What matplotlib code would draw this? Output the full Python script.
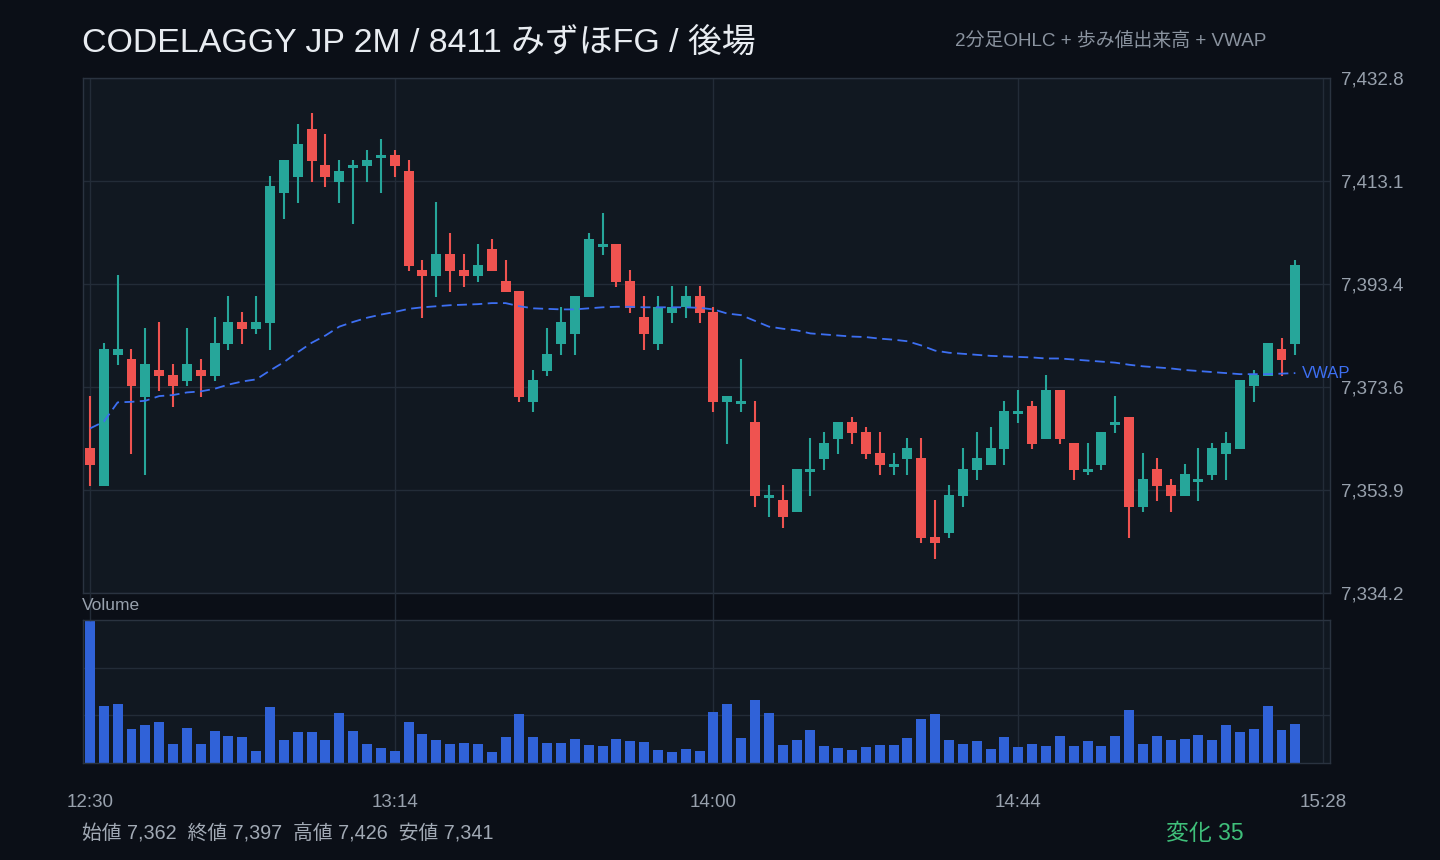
import matplotlib
matplotlib.use("Agg")
import matplotlib.pyplot as plt
import numpy as np

plt.rcParams['font.family'] = ['Liberation Sans', 'Noto Sans CJK JP', 'DejaVu Sans']

# 2-minute candles, afternoon session from 12:30
start_minutes = 12 * 60 + 30
bar_minutes = 2

opens = [7362.0, 7354.7, 7379.8, 7379.0, 7371.7, 7376.9, 7375.9, 7374.8, 7376.9, 7375.8,
         7381.9, 7386.1, 7384.8, 7385.9, 7410.8, 7413.9, 7423.0, 7416.1, 7412.9, 7415.6,
         7416.0, 7417.5, 7418.1, 7415.0, 7396.0, 7394.9, 7399.1, 7396.0, 7394.9, 7400.1,
         7393.9, 7392.0, 7370.8, 7376.7, 7381.9, 7383.8, 7390.9, 7400.4, 7401.0, 7393.9,
         7387.0, 7381.9, 7387.8, 7389.0, 7391.1, 7388.0, 7370.8, 7370.4, 7366.9, 7352.4,
         7352.0, 7349.7, 7357.4, 7359.9, 7363.7, 7366.9, 7365.0, 7361.0, 7358.3, 7359.9,
         7360.0, 7344.9, 7345.7, 7352.8, 7357.8, 7358.7, 7361.8, 7368.5, 7370.0, 7363.7,
         7373.1, 7362.9, 7357.4, 7358.7, 7366.4, 7367.9, 7350.7, 7357.9, 7354.9, 7352.8,
         7355.5, 7356.8, 7360.8, 7361.8, 7373.8, 7375.8, 7380.9, 7381.9]
highs = [7371.9, 7382.1, 7395.1, 7380.9, 7384.9, 7386.1, 7378.0, 7384.9, 7379.0, 7387.0,
         7391.1, 7388.0, 7391.1, 7414.0, 7417.1, 7424.0, 7426.1, 7422.1, 7417.1, 7417.1,
         7419.0, 7421.1, 7419.0, 7417.1, 7398.0, 7409.1, 7403.1, 7399.1, 7401.0, 7402.0,
         7398.0, 7392.0, 7376.9, 7384.9, 7389.0, 7391.1, 7403.1, 7407.0, 7401.0, 7396.0,
         7391.1, 7391.1, 7393.0, 7393.0, 7393.0, 7389.0, 7371.9, 7379.0, 7371.0, 7354.9,
         7354.9, 7357.9, 7363.9, 7365.0, 7366.9, 7367.9, 7366.0, 7365.0, 7361.0, 7363.9,
         7363.9, 7352.0, 7354.9, 7362.0, 7365.0, 7366.0, 7371.0, 7373.1, 7371.0, 7375.9,
         7373.1, 7362.9, 7362.9, 7365.0, 7371.9, 7367.9, 7361.0, 7360.0, 7356.0, 7358.9,
         7362.0, 7362.9, 7365.0, 7375.0, 7376.9, 7382.1, 7383.0, 7398.0]
lows = [7354.7, 7354.7, 7377.9, 7360.8, 7356.8, 7372.9, 7369.8, 7373.8, 7371.7, 7374.8,
        7380.7, 7381.9, 7383.8, 7380.7, 7405.8, 7408.9, 7412.9, 7411.9, 7408.9, 7404.9,
        7412.9, 7410.8, 7413.9, 7395.9, 7386.9, 7390.9, 7391.8, 7392.8, 7393.7, 7395.9,
        7391.8, 7370.8, 7368.9, 7375.7, 7379.8, 7379.8, 7390.9, 7398.9, 7392.8, 7387.8,
        7380.7, 7380.7, 7385.9, 7386.9, 7385.9, 7368.9, 7362.7, 7368.9, 7350.7, 7348.8,
        7346.6, 7349.7, 7352.8, 7357.7, 7360.8, 7362.7, 7359.9, 7356.8, 7356.8, 7356.8,
        7343.8, 7340.7, 7344.7, 7350.7, 7355.8, 7358.7, 7358.7, 7366.8, 7361.8, 7363.7,
        7362.7, 7355.8, 7356.8, 7357.8, 7364.8, 7344.7, 7349.7, 7351.8, 7349.7, 7352.8,
        7351.8, 7355.8, 7355.8, 7361.8, 7370.8, 7375.8, 7375.8, 7379.8]
closes = [7358.8, 7380.9, 7380.9, 7373.8, 7378.0, 7375.8, 7373.8, 7378.0, 7375.8, 7382.1,
          7386.1, 7384.8, 7386.1, 7412.1, 7417.1, 7420.2, 7416.9, 7413.9, 7415.0, 7416.1,
          7417.1, 7418.1, 7416.0, 7396.8, 7394.9, 7399.1, 7395.9, 7394.9, 7397.0, 7395.9,
          7391.8, 7371.7, 7375.0, 7380.0, 7386.1, 7391.1, 7402.0, 7401.0, 7393.7, 7388.8,
          7383.8, 7389.0, 7389.0, 7391.1, 7387.8, 7370.8, 7371.9, 7371.0, 7352.8, 7353.0,
          7348.8, 7357.9, 7357.9, 7362.9, 7366.9, 7364.8, 7360.8, 7358.7, 7358.9, 7362.0,
          7344.7, 7343.8, 7353.0, 7357.9, 7360.0, 7362.0, 7369.1, 7369.1, 7362.7, 7373.1,
          7363.7, 7357.8, 7357.9, 7365.0, 7366.9, 7350.7, 7356.0, 7354.7, 7352.8, 7357.0,
          7356.0, 7362.0, 7362.9, 7375.0, 7375.9, 7382.1, 7378.8, 7397.0]
volumes = [1000, 396, 410, 241, 269, 290, 136, 248, 136, 227,
           192, 185, 87, 389, 164, 220, 220, 164, 347, 227,
           136, 108, 87, 290, 206, 164, 136, 143, 136, 80,
           185, 340, 185, 143, 143, 171, 129, 122, 171, 157,
           150, 94, 80, 101, 87, 354, 410, 178, 438, 347,
           129, 164, 234, 122, 108, 94, 115, 129, 129, 178,
           311, 340, 164, 136, 157, 101, 185, 115, 136, 122,
           192, 122, 157, 122, 192, 368, 136, 192, 164, 171,
           199, 164, 269, 220, 241, 396, 234, 276]
vwap = [7365.7, 7367.0, 7370.7, 7370.8, 7371.0, 7371.9, 7372.1, 7372.6, 7372.8, 7373.3,
        7374.1, 7374.7, 7375.1, 7376.8, 7378.4, 7380.3, 7382.1, 7383.5, 7385.2, 7386.1,
        7386.9, 7387.5, 7388.0, 7388.6, 7388.9, 7389.1, 7389.3, 7389.4, 7389.5, 7389.7,
        7389.7, 7389.1, 7388.7, 7388.6, 7388.5, 7388.5, 7388.7, 7388.9, 7389.0, 7389.0,
        7388.9, 7388.9, 7388.9, 7388.9, 7388.8, 7388.5, 7387.7, 7387.4, 7386.3, 7385.2,
        7384.8, 7384.5, 7383.9, 7383.7, 7383.5, 7383.3, 7383.2, 7382.9, 7382.7, 7382.4,
        7381.6, 7380.6, 7380.2, 7380.0, 7379.8, 7379.6, 7379.5, 7379.4, 7379.3, 7379.1,
        7379.1, 7378.9, 7378.7, 7378.5, 7378.3, 7377.9, 7377.6, 7377.4, 7377.2, 7376.9,
        7376.7, 7376.5, 7376.3, 7376.1, 7376.1, 7376.1, 7376.2, 7376.3]

price_min, price_max = 7334.2, 7432.8
time_tick_idx = [0, 22, 45, 67, 89]

BG = '#0b0f17'
PANEL = '#111821'
GRID = '#232c38'
TEXT = '#98a1ad'
UP = '#26a69a'
DOWN = '#ef5350'
VOL = '#3062d8'
VWAP_C = '#3d6ff2'


def fmt_time(i):
    m = start_minutes + bar_minutes * i
    return f"{m // 60}:{m % 60:02d}"


o = np.array(opens)
h = np.array(highs)
l = np.array(lows)
c = np.array(closes)
x = np.arange(len(o))
colors = [UP if cc >= oo else DOWN for oo, cc in zip(o, c)]

fig = plt.figure(figsize=(14.4, 8.6), dpi=100)
fig.patch.set_facecolor(BG)

ax = fig.add_axes([83 / 1440, 1 - 593 / 860, 1247 / 1440, 515 / 860])
axv = fig.add_axes([83 / 1440, 1 - 763 / 860, 1247 / 1440, 143 / 860])

for a in (ax, axv):
    a.set_facecolor(PANEL)
    a.set_xlim(-0.5, 89.5)
    for s in a.spines.values():
        s.set_color('#2a3340')
        s.set_linewidth(1)
    a.set_xticks(time_tick_idx)
    a.grid(True, color=GRID, linewidth=1)
    a.set_axisbelow(True)
    a.tick_params(length=0)

# price panel
ax.vlines(x, l, h, colors=colors, linewidth=1.5)
ax.bar(x, np.abs(c - o), bottom=np.minimum(o, c), width=0.72, color=colors)
vline, = ax.plot(x, vwap, color=VWAP_C, linewidth=1.3)
vline.set_dashes([5.5, 3.0])
ax.text(x[-1] + 0.5, vwap[-1], "VWAP", color=VWAP_C, fontsize=12,
        ha='left', va='center', clip_on=False)

ax.set_ylim(price_min, price_max)
yt = np.linspace(price_min, price_max, 6)
ax.set_yticks(yt)
ax.set_yticklabels([f"{v:,.1f}" for v in yt])
ax.yaxis.tick_right()
ax.tick_params(axis='y', colors=TEXT, labelsize=13.5, pad=8)
ax.tick_params(axis='x', labelbottom=False)

# volume panel
axv.bar(x, volumes, width=0.72, color=VOL)
vmax = max(volumes)
axv.set_ylim(0, vmax)
axv.set_yticks([vmax / 3, vmax * 2 / 3])
axv.tick_params(axis='y', labelleft=False, labelright=False)
axv.set_xticklabels([fmt_time(i) for i in time_tick_idx])
axv.tick_params(axis='x', colors=TEXT, labelsize=13.5, pad=22.5)
for t in time_tick_idx:
    axv.axvline(t, ymin=1, ymax=1 + 27 / 143, color=GRID, linewidth=1, clip_on=False)

# texts
fig.text(82 / 1440, 1 - 43 / 860, "CODELAGGY JP 2M / 8411 みずほFG / 後場",
         color='#e8ecf1', fontsize=24.4, va='center', ha='left')
fig.text(955 / 1440, 1 - 41 / 860, "2分足OHLC + 歩み値出来高 + VWAP",
         color='#8a939f', fontsize=13.6, va='center', ha='left')
fig.text(82 / 1440, 1 - 606 / 860, "Volume", color=TEXT, fontsize=12.5,
         va='center', ha='left')

summary = (f"始値 {opens[0]:,.0f}  終値 {closes[-1]:,.0f}  "
           f"高値 {max(highs):,.0f}  安値 {min(lows):,.0f}")
fig.text(82 / 1440, 1 - 834 / 860, summary, color='#a2aab5', fontsize=14.2,
         va='center', ha='left')
change = round(closes[-1]) - round(opens[0])
fig.text(1244 / 1440, 1 - 834 / 860, f"変化 {change}", color='#3fbf7a',
         fontsize=16.5, va='center', ha='right')

fig.savefig("out.png", dpi=100, facecolor=BG)
